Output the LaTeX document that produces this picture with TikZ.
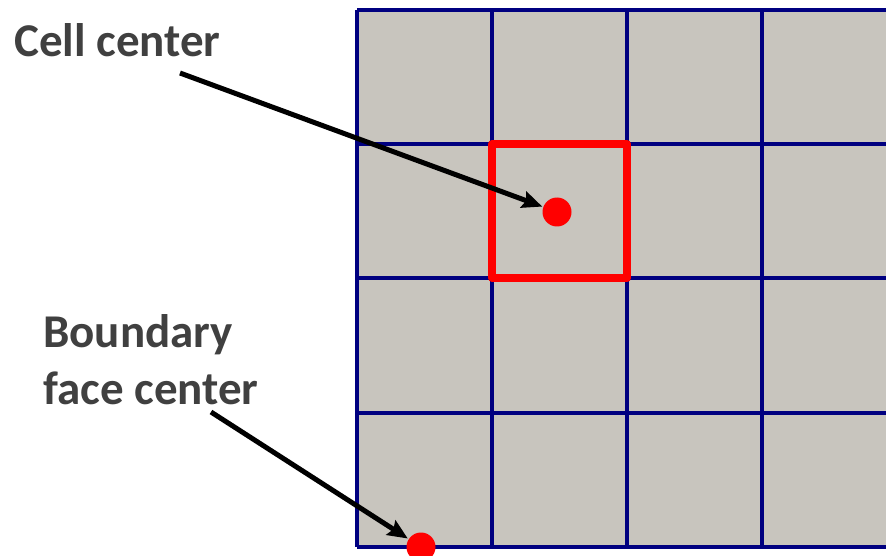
\documentclass[tikz,border=0pt]{standalone}
\usepackage{fontspec}
\setmainfont{Carlito}
\usetikzlibrary{arrows.meta}
\definecolor{cellgray}{HTML}{C8C5BE}
\definecolor{gridnavy}{HTML}{000080}
\definecolor{labelgray}{HTML}{404040}
\tikzset{
  gridline/.style={draw=gridnavy, line width=3.4pt},
  redbox/.style={draw=red, line width=8pt, line join=round},
  reddot/.style={circle, fill=red, minimum size=29pt, inner sep=0pt},
  label/.style={font=\fontsize{47}{57}\selectfont\bfseries, text=labelgray, inner sep=0pt, align=left},
  pointer/.style={draw=black, line width=5pt, -{Stealth[length=20pt,width=17pt,inset=3pt]}, shorten >=1pt}
}
\begin{document}
\begin{tikzpicture}[x=1pt, y=-1pt]
\useasboundingbox (0,0) rectangle (886,556);
\begin{scope}
\clip (0,0) rectangle (886,556);
\fill[cellgray] (357,10) rectangle (900,547);
\foreach \x in {357,492,627,762} \draw[gridline] (\x,10) -- (\x,547);
\foreach \y in {10,144,278,413,547} \draw[gridline] (357,\y) -- (900,\y);
\draw[redbox] (492,144) rectangle (627,278);
\node[reddot] (cc) at (557,212) {};
\node[reddot] (fc) at (421,547) {};
\end{scope}
\node[label, anchor=base west] (celltext) at (14,57) {Cell center};
\node[label, anchor=base west] (facetext) at (43,404) {Boundary\\face center};
\coordinate (cstart) at (180,73);
\coordinate (fstart) at (211,412);
\draw[pointer] (cstart) -- (cc);
\draw[pointer] (fstart) -- (fc);
\end{tikzpicture}
\end{document}
